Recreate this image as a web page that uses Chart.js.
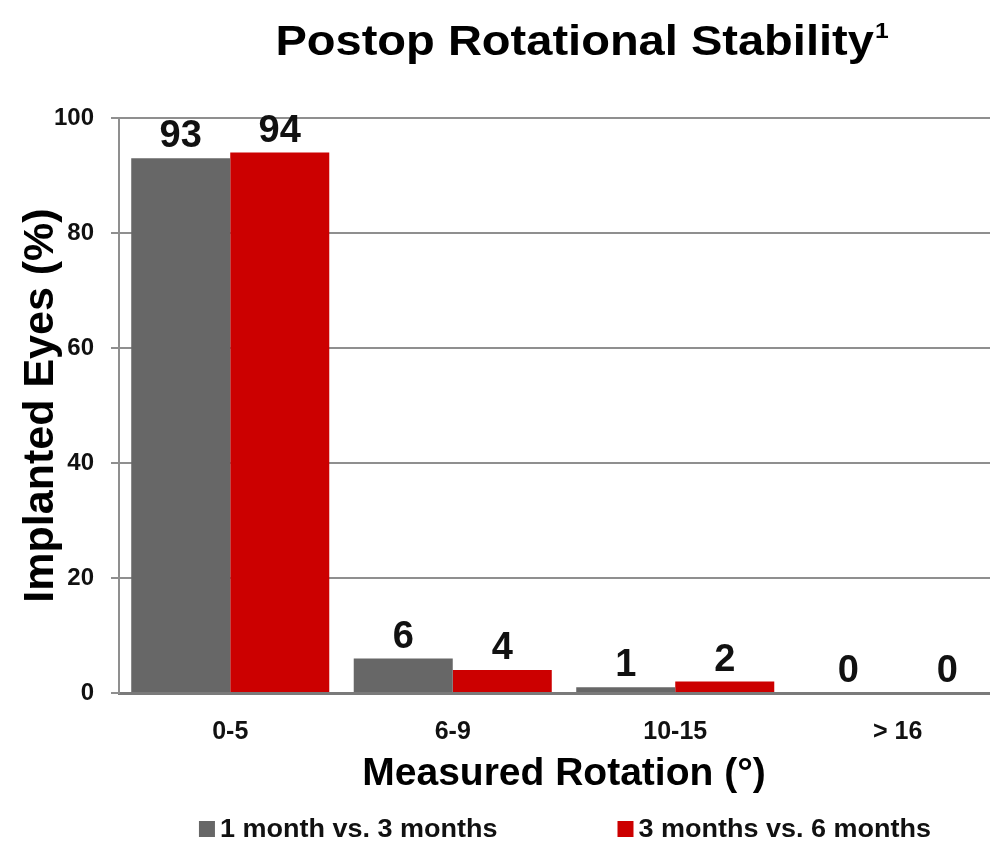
<!DOCTYPE html>
<html>
<head>
<meta charset="utf-8">
<title>Postop Rotational Stability</title>
<script src="https://cdn.jsdelivr.net/npm/chart.js@4"></script>
<style>
  html, body { margin: 0; padding: 0; background: #fff; overflow: hidden; }
  /* plot runs slightly past the right edge, like the original slide */
  #wrap { width: 990px; height: 845px; overflow: hidden; }
</style>
</head>
<body>
<div id="wrap"><canvas id="chart" width="1009" height="845"></canvas></div>
<script>
// ---- Data ----
const categories = ['0-5', '6-9', '10-15', '> 16'];
const seriesNames = ['1 month vs. 3 months', '3 months vs. 6 months'];
const oneVsThree = [93, 6, 1, 0];
const threeVsSix = [94, 4, 2, 0];
const yTicks = [0, 20, 40, 60, 80, 100];

const GRAY = '#676767';
const RED = '#cc0000';
const FONT = "'Liberation Sans', Arial, sans-serif";
const VIEW_W = 990;

// ---- Title with superscript ----
const titlePlugin = {
  id: 'slideTitle',
  afterDraw(chart) {
    const ctx = chart.ctx;
    const main = 'Postop Rotational Stability';
    const stretch = 1.12;
    ctx.save();
    ctx.fillStyle = '#000';
    ctx.textBaseline = 'alphabetic';
    ctx.textAlign = 'left';
    ctx.font = 'bold 42px ' + FONT;
    const w1 = ctx.measureText(main).width * stretch;
    ctx.font = 'bold 22px ' + FONT;
    const w2 = ctx.measureText('1').width * stretch;
    const cx = (chart.chartArea.left + VIEW_W) / 2 + 27;
    const x0 = cx - (w1 + w2) / 2;
    ctx.translate(x0, 0);
    ctx.scale(stretch, 1);
    ctx.font = 'bold 42px ' + FONT;
    ctx.fillText(main, 0, 55);
    ctx.font = 'bold 22px ' + FONT;
    ctx.fillText('1', w1 / stretch + 1, 38);
    ctx.restore();
  }
};

// ---- Value labels above bars ----
const valueLabels = {
  id: 'valueLabels',
  afterDatasetsDraw(chart) {
    const ctx = chart.ctx;
    ctx.save();
    ctx.font = 'bold 38px ' + FONT;
    ctx.fillStyle = '#111';
    ctx.textAlign = 'center';
    ctx.textBaseline = 'alphabetic';
    chart.data.datasets.forEach((ds, i) => {
      chart.getDatasetMeta(i).data.forEach((bar, j) => {
        ctx.fillText(String(ds.data[j]), bar.x, bar.y - 11);
      });
    });
    ctx.restore();
  }
};

// ---- Legend below axis title ----
const bottomLegend = {
  id: 'bottomLegend',
  afterDraw(chart) {
    const ctx = chart.ctx;
    const box = 16, gapText = 5, gapItem = 120, stretch = 1.08;
    ctx.save();
    ctx.font = 'bold 25px ' + FONT;
    const items = chart.data.datasets.map(ds => {
      const tw = ctx.measureText(ds.label).width * stretch;
      return { label: ds.label, color: ds.backgroundColor, tw, w: box + gapText + tw };
    });
    const total = items.reduce((s, it) => s + it.w, 0) + gapItem * (items.length - 1);
    let x = 565 - total / 2;
    const y = 829;
    ctx.textBaseline = 'middle';
    ctx.textAlign = 'left';
    items.forEach(it => {
      ctx.fillStyle = it.color;
      ctx.fillRect(x, y - box / 2, box, box);
      ctx.save();
      ctx.translate(x + box + gapText, y + 1);
      ctx.scale(stretch, 1);
      ctx.fillStyle = '#111';
      ctx.fillText(it.label, 0, 0);
      ctx.restore();
      x += it.w + gapItem;
    });
    ctx.restore();
  }
};

new Chart(document.getElementById('chart'), {
  type: 'bar',
  data: {
    labels: categories,
    datasets: [
      { label: seriesNames[0], data: oneVsThree, backgroundColor: GRAY },
      { label: seriesNames[1], data: threeVsSix, backgroundColor: RED }
    ]
  },
  options: {
    responsive: false,
    animation: false,
    devicePixelRatio: 1,
    categoryPercentage: 0.89,
    barPercentage: 1.0,
    layout: { padding: { top: 118, right: 0, bottom: 37, left: 0 } },
    plugins: {
      legend: { display: false },
      title: { display: false },
      tooltip: { enabled: false }
    },
    scales: {
      x: {
        grid: { display: false },
        border: { display: true, color: '#7a7a7a', width: 3 },
        ticks: {
          color: '#111',
          padding: 16,
          font: { family: FONT, size: 25, weight: 'bold' }
        },
        title: {
          display: true,
          text: 'Measured Rotation (°)',
          color: '#000',
          padding: { top: 0, bottom: 10 },
          font: { family: FONT, size: 39, weight: 'bold' }
        },
        afterFit(scale) { scale.height = 115; }
      },
      y: {
        min: 0,
        max: 100,
        afterBuildTicks(scale) { scale.ticks = yTicks.map(v => ({ value: v })); },
        grid: { color: '#8f8f8f', lineWidth: 2, tickLength: 8 },
        border: { display: true, color: '#8f8f8f', width: 2 },
        ticks: {
          color: '#111',
          padding: 17,
          font: { family: FONT, size: 24, weight: 'bold' }
        },
        title: {
          display: true,
          text: 'Implanted Eyes (%)',
          color: '#000',
          padding: { top: 15, bottom: 0 },
          font: { family: FONT, size: 43, weight: 'bold' }
        },
        afterFit(scale) { scale.width = 119; }
      }
    }
  },
  plugins: [titlePlugin, valueLabels, bottomLegend]
});
</script>
</body>
</html>
